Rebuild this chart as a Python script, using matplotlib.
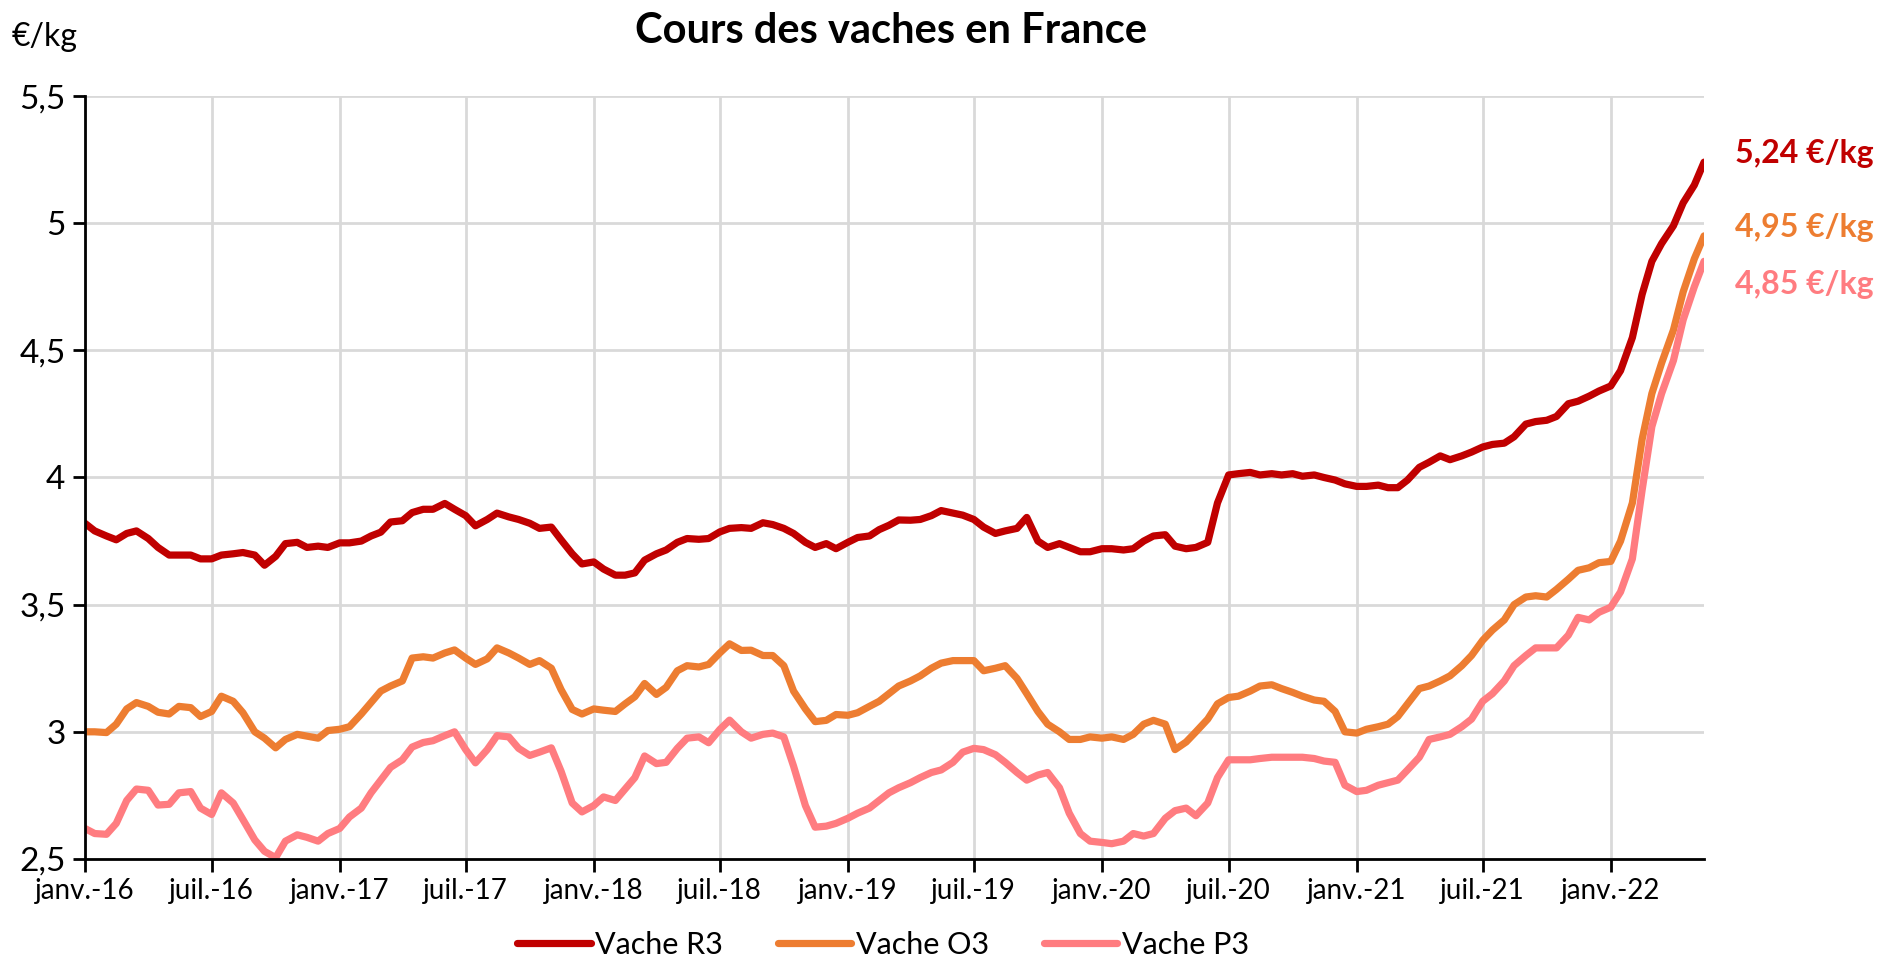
import pandas as pd
import matplotlib
matplotlib.use("Agg")
import matplotlib.pyplot as plt

# semi-monthly readings (1st and 15th), janv. 2016 -> mai 2022
r3 = [
    3.82, 3.79, 3.77, 3.755, 3.78, 3.79, 3.76, 3.725, 3.695, 3.695, 3.695, 3.68,
    3.68, 3.695, 3.70, 3.705, 3.695, 3.655, 3.69, 3.74, 3.745, 3.725, 3.73, 3.725,
    3.743, 3.743, 3.75, 3.77, 3.785, 3.825, 3.83, 3.862, 3.875, 3.875, 3.898, 3.875,
    3.85, 3.81, 3.835, 3.86, 3.845, 3.835, 3.82, 3.80, 3.805, 3.755, 3.70, 3.66,
    3.668, 3.64, 3.616, 3.616, 3.625, 3.675, 3.70, 3.715, 3.745, 3.76, 3.757, 3.76,
    3.786, 3.80, 3.803, 3.80, 3.822, 3.815, 3.80, 3.78, 3.745, 3.725, 3.74, 3.72,
    3.745, 3.764, 3.77, 3.795, 3.812, 3.833, 3.832, 3.835, 3.85, 3.87, 3.86, 3.852,
    3.835, 3.805, 3.78, 3.79, 3.80, 3.843, 3.75, 3.725, 3.74, 3.725, 3.708, 3.708,
    3.72, 3.72, 3.715, 3.72, 3.75, 3.77, 3.775, 3.73, 3.72, 3.725, 3.745, 3.90,
    4.01, 4.015, 4.02, 4.01, 4.015, 4.01, 4.015, 4.005, 4.01, 4.0, 3.99, 3.975,
    3.965, 3.965, 3.97, 3.96, 3.96, 3.99, 4.04, 4.06, 4.085, 4.07, 4.085, 4.10,
    4.12, 4.13, 4.135, 4.16, 4.21, 4.22, 4.225, 4.24, 4.29, 4.30, 4.32, 4.34,
    4.36, 4.42, 4.55, 4.72, 4.85, 4.92, 4.99, 5.08, 5.15, 5.24,
]
o3 = [
    3.00, 3.00, 2.997, 3.03, 3.09, 3.115, 3.10, 3.077, 3.07, 3.10, 3.095, 3.06,
    3.08, 3.14, 3.12, 3.075, 3.00, 2.975, 2.937, 2.97, 2.99, 2.983, 2.975, 3.005,
    3.01, 3.02, 3.07, 3.115, 3.16, 3.18, 3.20, 3.29, 3.295, 3.29, 3.31, 3.322,
    3.29, 3.265, 3.287, 3.33, 3.31, 3.29, 3.265, 3.28, 3.25, 3.166, 3.088, 3.07,
    3.09, 3.085, 3.08, 3.11, 3.138, 3.19, 3.147, 3.175, 3.24, 3.26, 3.255, 3.265,
    3.31, 3.346, 3.32, 3.321, 3.30, 3.30, 3.26, 3.16, 3.09, 3.04, 3.045, 3.068,
    3.065, 3.075, 3.10, 3.12, 3.15, 3.18, 3.20, 3.22, 3.25, 3.27, 3.28, 3.28,
    3.28, 3.24, 3.25, 3.26, 3.21, 3.15, 3.08, 3.03, 3.00, 2.97, 2.97, 2.98,
    2.975, 2.98, 2.97, 2.99, 3.03, 3.045, 3.03, 2.93, 2.96, 3.00, 3.05, 3.11,
    3.135, 3.14, 3.16, 3.18, 3.185, 3.17, 3.155, 3.14, 3.125, 3.12, 3.08, 3.00,
    2.995, 3.01, 3.02, 3.03, 3.06, 3.11, 3.17, 3.18, 3.20, 3.22, 3.26, 3.30,
    3.36, 3.40, 3.44, 3.50, 3.53, 3.535, 3.53, 3.56, 3.60, 3.635, 3.645, 3.665,
    3.67, 3.75, 3.90, 4.15, 4.33, 4.45, 4.58, 4.73, 4.86, 4.95,
]
p3 = [
    2.62, 2.60, 2.597, 2.64, 2.73, 2.775, 2.77, 2.712, 2.715, 2.76, 2.765, 2.70,
    2.675, 2.76, 2.72, 2.655, 2.575, 2.53, 2.505, 2.57, 2.595, 2.585, 2.57, 2.60,
    2.62, 2.665, 2.70, 2.76, 2.81, 2.86, 2.89, 2.94, 2.958, 2.965, 2.985, 3.00,
    2.93, 2.878, 2.93, 2.985, 2.98, 2.935, 2.907, 2.92, 2.937, 2.845, 2.72, 2.685,
    2.71, 2.744, 2.73, 2.775, 2.82, 2.905, 2.875, 2.88, 2.935, 2.975, 2.98, 2.957,
    3.009, 3.046, 3.00, 2.975, 2.99, 2.995, 2.98, 2.865, 2.71, 2.625, 2.629, 2.64,
    2.66, 2.68, 2.70, 2.73, 2.76, 2.78, 2.80, 2.82, 2.84, 2.85, 2.88, 2.92,
    2.935, 2.93, 2.91, 2.88, 2.84, 2.81, 2.83, 2.84, 2.78, 2.68, 2.60, 2.57,
    2.565, 2.56, 2.57, 2.60, 2.59, 2.60, 2.66, 2.69, 2.70, 2.67, 2.72, 2.82,
    2.89, 2.89, 2.89, 2.895, 2.90, 2.90, 2.90, 2.90, 2.895, 2.885, 2.88, 2.79,
    2.765, 2.77, 2.79, 2.80, 2.81, 2.85, 2.90, 2.97, 2.98, 2.99, 3.02, 3.05,
    3.12, 3.15, 3.20, 3.26, 3.30, 3.33, 3.33, 3.33, 3.38, 3.45, 3.44, 3.47,
    3.49, 3.55, 3.68, 3.95, 4.20, 4.33, 4.46, 4.62, 4.75, 4.85,
]
dates = pd.date_range("2016-01-01", periods=len(r3), freq="SMS")

series = ["Vache R3", "Vache O3", "Vache P3"]
colors = ["#C00000", "#ED7D31", "#FF7C80"]
end_labels = ["5,24 €/kg", "4,95 €/kg", "4,85 €/kg"]

tick_dates = pd.date_range("2016-01-01", "2022-01-01", freq="6MS")
mois = {1: "janv.", 7: "juil."}
tick_labels = [f"{mois[d.month]}-{d.strftime('%y')}" for d in tick_dates]

y_ticks = [2.5, 3, 3.5, 4, 4.5, 5, 5.5]
y_labels = ["2,5", "3", "3,5", "4", "4,5", "5", "5,5"]

plt.rcParams["font.family"] = ["Lato", "DejaVu Sans"]

fig = plt.figure(figsize=(18.79, 9.73), dpi=100)
ax = fig.add_axes([0.0452, 0.1172, 0.8617, 0.7841])

for vals, name, col in zip([r3, o3, p3], series, colors):
    ax.plot(dates, vals, color=col, lw=5.2, label=name, solid_capstyle="round")

ax.set_ylim(2.5, 5.5)
ax.set_xlim(dates[0], dates[-1])
ax.set_yticks(y_ticks)
ax.set_yticklabels(y_labels, fontsize=24)
ax.set_xticks(tick_dates)
ax.set_xticklabels(tick_labels, fontsize=20)
ax.tick_params(axis="both", direction="out", length=9, width=2, color="black", pad=5)

ax.grid(True, color="#D9D9D9", lw=2)
ax.set_axisbelow(True)
for s in ["top", "right"]:
    ax.spines[s].set_visible(False)
for s in ["left", "bottom"]:
    ax.spines[s].set_linewidth(2)
    ax.spines[s].set_color("black")

# end values on the right (vertical nudge so they do not overlap)
nudges = [6, 6, -17]
for vals, txt, col, dy in zip([r3, o3, p3], end_labels, colors, nudges):
    ax.annotate(txt, xy=(dates[-1], vals[-1]), xytext=(22, dy),
                textcoords="offset points", color=col, fontsize=23,
                fontweight="bold", va="center", ha="left",
                annotation_clip=False)

fig.text(0.474, 0.968, "Cours des vaches en France", ha="center", va="center",
         fontsize=30, fontweight="bold")
fig.text(0.006, 0.962, "€/kg", ha="left", va="center", fontsize=23)

fig.legend(loc="lower center", bbox_to_anchor=(0.47, -0.014), ncol=3,
           frameon=False, fontsize=22, handlelength=2.4, handletextpad=0.15,
           columnspacing=1.8)

fig.savefig("out.png", dpi=100)
